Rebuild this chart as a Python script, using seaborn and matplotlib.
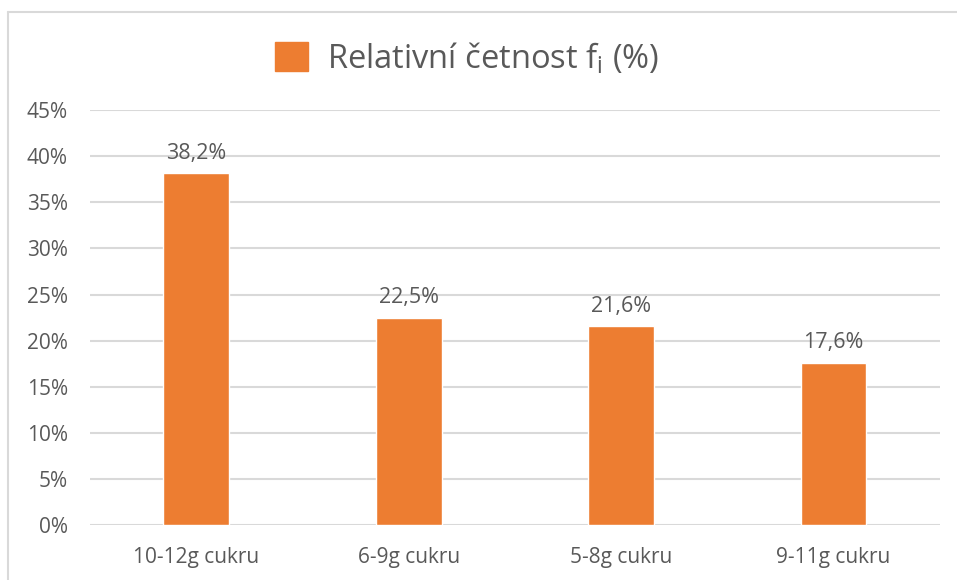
import pandas as pd
import seaborn as sns
import matplotlib.pyplot as plt
from matplotlib.patches import Patch
from matplotlib.lines import Line2D

# data
categories = ['10-12g cukru', '6-9g cukru', '5-8g cukru', '9-11g cukru']
values = [38.2, 22.5, 21.6, 17.6]
series_name = 'Relativní četnost f$_\\mathregular{i}$ (%)'

df = pd.DataFrame({'kategorie': categories, 'hodnota': values})

ORANGE = '#ED7D31'
TEXT = '#595959'
GRID = '#D9D9D9'

sns.set_theme(style='white')
plt.rcParams['font.family'] = ['Open Sans', 'DejaVu Sans']
plt.rcParams['mathtext.fontset'] = 'custom'
plt.rcParams['mathtext.rm'] = 'Open Sans'

fig = plt.figure(figsize=(9.57, 5.8), dpi=100)
ax = fig.add_axes([0.094, 0.095, 0.888, 0.715])

sns.barplot(data=df, x='kategorie', y='hodnota', color=ORANGE, width=0.31,
            saturation=1, ax=ax)

ax.set_ylim(0, 45)
ax.set_yticks(range(0, 50, 5))
ax.set_yticklabels([f'{t}%' for t in range(0, 50, 5)])
ax.yaxis.grid(True, color=GRID, linewidth=1.5)
ax.set_axisbelow(True)
for s in ax.spines.values():
    s.set_visible(False)
ax.set_xlabel('')
ax.set_ylabel('')
ax.tick_params(axis='both', length=0, labelsize=15, colors=TEXT)
ax.tick_params(axis='x', pad=16)
ax.tick_params(axis='y', pad=16)

for i, v in enumerate(values):
    ax.text(i, v + 1.0, f'{v:.1f}%'.replace('.', ','), ha='center', va='bottom',
            fontsize=15.5, color=TEXT)

handle = Patch(facecolor=ORANGE, edgecolor=ORANGE)
fig.legend([handle], [series_name], loc='center', bbox_to_anchor=(0.488, 0.9),
           frameon=False, fontsize=23.5, labelcolor=TEXT, handlelength=1.0,
           handleheight=1.0, handletextpad=0.6)

# chart frame (cropped at right/bottom in the reference)
fig.add_artist(Line2D([0.0085, 0.0085], [0, 0.979], color='#D9D9D9', linewidth=1.5))
fig.add_artist(Line2D([0.0085, 1], [0.979, 0.979], color='#D9D9D9', linewidth=1.5))

fig.savefig('out.png', dpi=100)
